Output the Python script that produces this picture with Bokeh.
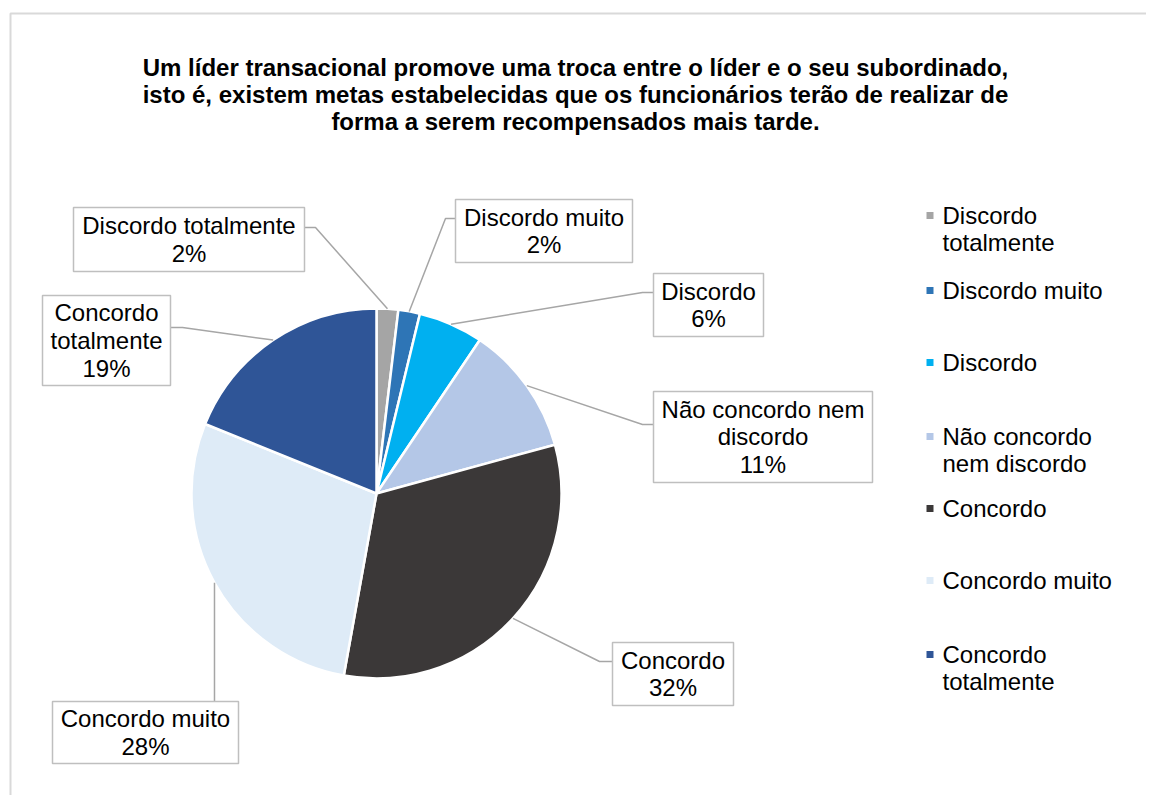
import math
from bokeh.plotting import figure
from bokeh.models import Range1d, ColumnDataSource
from bokeh.core.properties import value
from bokeh.embed import file_html
from bokeh.resources import INLINE

# ---- data ----
categories = ["Discordo totalmente", "Discordo muito", "Discordo",
              "Não concordo nem discordo", "Concordo", "Concordo muito",
              "Concordo totalmente"]
counts = [1, 1, 3, 6, 17, 15, 10]
colors = ["#A5A5A5", "#2E75B6", "#00B0F0", "#B4C7E7", "#3B3838", "#DEEBF7", "#2F5597"]
legend_labels = ["Discordo\ntotalmente", "Discordo muito", "Discordo",
                 "Não concordo\nnem discordo", "Concordo", "Concordo muito",
                 "Concordo\ntotalmente"]
data_label_names = ["Discordo totalmente", "Discordo muito", "Discordo",
                    "Não concordo nem\ndiscordo", "Concordo", "Concordo muito",
                    "Concordo\ntotalmente"]
title_text = ("Um líder transacional promove uma troca entre o líder e o seu subordinado,\n"
              "isto é, existem metas estabelecidas que os funcionários terão de realizar de\n"
              "forma a serem recompensados mais tarde.")

# ---- layout (screenshot pixels; data y = -pixel y) ----
W, H = 1146, 795
FONT = "Liberation Sans"
cx, cy, R = 376, 493, 185
# label boxes: left, top, right, bottom
boxes = [(73, 207, 304, 271), (455, 199, 632, 262), (653, 273, 763, 336),
         (653, 391, 872, 482), (612, 642, 733, 705), (52, 701, 238, 763),
         (42, 295, 170, 385)]
# leader: box anchor, elbow
anchors = [((304, 227), (315, 227)), ((455, 218), (445, 218)), ((653, 292), (642, 292)),
           ((653, 424), (642, 424)), ((612, 661), (599, 661)), ((214, 701), (214, 701)),
           ((170, 327), (182, 327))]
legend_y = [215, 290, 362, 436, 508, 580, 654]

p = figure(width=W, height=H, output_backend="svg", toolbar_location=None,
           x_range=Range1d(0, W), y_range=Range1d(-H, 0),
           min_border=0, outline_line_color=None, background_fill_color="white",
           border_fill_color="white")
p.xaxis.visible = False
p.yaxis.visible = False
p.grid.visible = False

# chart border
p.multi_line(xs=[[10, 10, 1160]], ys=[[-810, -13, -13]],
             line_color="#D9D9D9", line_width=2)

# pie
total = sum(counts)
cum = 0
starts, ends, mids = [], [], []
for c in counts:
    a0 = math.pi / 2 - 2 * math.pi * cum / total
    cum += c
    a1 = math.pi / 2 - 2 * math.pi * cum / total
    starts.append(a0); ends.append(a1); mids.append((a0 + a1) / 2)
src = ColumnDataSource(dict(start=starts, end=ends, color=colors))
p.wedge(x=cx, y=-cy, radius=R, start_angle="start", end_angle="end",
        direction="clock", fill_color="color", line_color="white", line_width=2.5,
        source=src)

# leader lines
lx, ly = [], []
for m, (a, e) in zip(mids, anchors):
    ex = cx + R * math.cos(m)
    ey = -cy + R * math.sin(m)
    lx.append([a[0], e[0], ex]); ly.append([-a[1], -e[1], ey])
p.multi_line(xs=lx, ys=ly, line_color="#A6A6A6", line_width=1.5)

# label boxes
p.quad(left=[b[0] for b in boxes], right=[b[2] for b in boxes],
       top=[-b[1] for b in boxes], bottom=[-b[3] for b in boxes],
       fill_color="white", line_color="#BFBFBF", line_width=1.5)
pct = [f"{round(100 * c / total)}%" for c in counts]
ltxt = [f"{n}\n{q}" for n, q in zip(data_label_names, pct)]
p.text(x=[(b[0] + b[2]) / 2 for b in boxes], y=[-(b[1] + b[3]) / 2 for b in boxes],
       text=ltxt, text_align="center", text_baseline="middle",
       text_font=value(FONT), text_font_size="24px", text_color="black",
       text_line_height=1.02)

# legend
p.rect(x=[929.5] * 7, y=[-y for y in legend_y], width=7, height=7,
       fill_color=colors, line_color=None)
p.text(x=[942] * 7, y=[-y + 14 for y in legend_y], text=legend_labels,
       text_align="left", text_baseline="top", text_font=value(FONT),
       text_font_size="24px", text_color="black", text_line_height=1.0)

# title
p.text(x=[575], y=[-53], text=[title_text], text_align="center", text_baseline="top",
       text_font=value(FONT), text_font_size="24px", text_font_style="bold",
       text_color="black", text_line_height=1.01)

open("out.html", "w").write(file_html(p, INLINE))
